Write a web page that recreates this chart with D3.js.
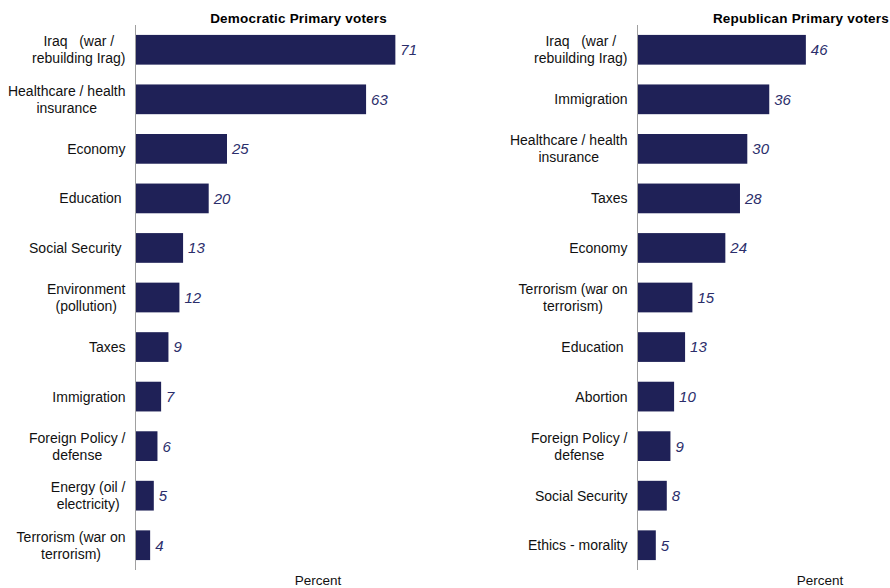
<!DOCTYPE html>
<html>
<head>
<meta charset="utf-8">
<script src="https://cdn.jsdelivr.net/npm/d3@7"></script>
<style>
  html, body { margin: 0; padding: 0; background: #fff; }
  svg text { font-family: "Liberation Sans", Arial, sans-serif; white-space: pre; }
</style>
</head>
<body>
<svg id="chart" width="890" height="588"></svg>
<script>
const demCategories = [
  "Iraq   (war /\nrebuilding Irag)",
  "Healthcare / health\ninsurance",
  "Economy",
  "Education ",
  "Social Security ",
  "Environment\n(pollution)",
  "Taxes",
  "Immigration",
  "Foreign Policy /\ndefense",
  "Energy (oil /\nelectricity)",
  "Terrorism (war on\nterrorism)"
];
const demValues = [71, 63, 25, 20, 13, 12, 9, 7, 6, 5, 4];

const repCategories = [
  "Iraq   (war /\nrebuilding Irag)",
  "Immigration",
  "Healthcare / health\ninsurance",
  "Taxes",
  "Economy",
  "Terrorism (war on\nterrorism)",
  "Education ",
  "Abortion",
  "Foreign Policy /\ndefense",
  "Social Security",
  "Ethics - morality"
];
const repValues = [46, 36, 30, 28, 24, 15, 13, 10, 9, 8, 5];

const panelTitles = ["Democratic Primary voters", "Republican Primary voters"];
const axisTitle = "Percent";

const svg = d3.select("#chart");
const barColor = "#1f2157";
const labelColor = "#2b2e6b";

function drawPanel(axisX, title, cats, vals) {
  const g = svg.append("g").attr("transform", `translate(${axisX},0)`);
  const x = d3.scaleLinear().domain([0, 100]).range([0, 366]);
  const y = d3.scaleBand().domain(cats).range([25, 570]).paddingInner(0.4).paddingOuter(0.2);

  g.selectAll("rect.bar").data(cats).enter().append("rect")
    .attr("class", "bar")
    .attr("x", 0)
    .attr("y", d => y(d))
    .attr("width", (d, i) => x(vals[i]))
    .attr("height", y.bandwidth())
    .attr("fill", barColor);

  g.selectAll("text.val").data(cats).enter().append("text")
    .attr("class", "val")
    .attr("x", (d, i) => x(vals[i]) + 5)
    .attr("y", d => y(d) + y.bandwidth() / 2)
    .attr("dy", "0.36em")
    .attr("font-size", 15)
    .attr("font-style", "italic")
    .attr("fill", labelColor)
    .text((d, i) => vals[i]);

  g.append("line")
    .attr("x1", 0).attr("x2", 0)
    .attr("y1", 25).attr("y2", 570)
    .attr("stroke", "#a0a0a0").attr("stroke-width", 1);

  const lineH = 17;
  cats.forEach(c => {
    const lines = c.split("\n");
    const cy = y(c) + y.bandwidth() / 2;
    const t = g.append("text")
      .attr("font-size", 14)
      .attr("fill", "#111")
      .attr("text-anchor", "middle");
    const tspans = lines.map((ln, k) => t.append("tspan")
      .attr("y", cy + (k - (lines.length - 1) / 2) * lineH)
      .attr("dy", "0.36em")
      .text(ln));
    let maxW = 0;
    tspans.forEach(ts => { maxW = Math.max(maxW, ts.node().getComputedTextLength()); });
    const right = -10;
    tspans.forEach(ts => ts.attr("x", right - maxW / 2));
  });

  g.append("text")
    .attr("x", 251.5).attr("y", 23)
    .attr("text-anchor", "end")
    .attr("font-size", 13.5)
    .attr("font-weight", "bold")
    .attr("letter-spacing", 0.2)
    .attr("fill", "#000")
    .text(title);

  g.append("text")
    .attr("x", 182.5).attr("y", 585)
    .attr("text-anchor", "middle")
    .attr("font-size", 13.5)
    .attr("fill", "#111")
    .text(axisTitle);
}

drawPanel(135.5, panelTitles[0], demCategories, demValues);
drawPanel(637.5, panelTitles[1], repCategories, repValues);
</script>
</body>
</html>
